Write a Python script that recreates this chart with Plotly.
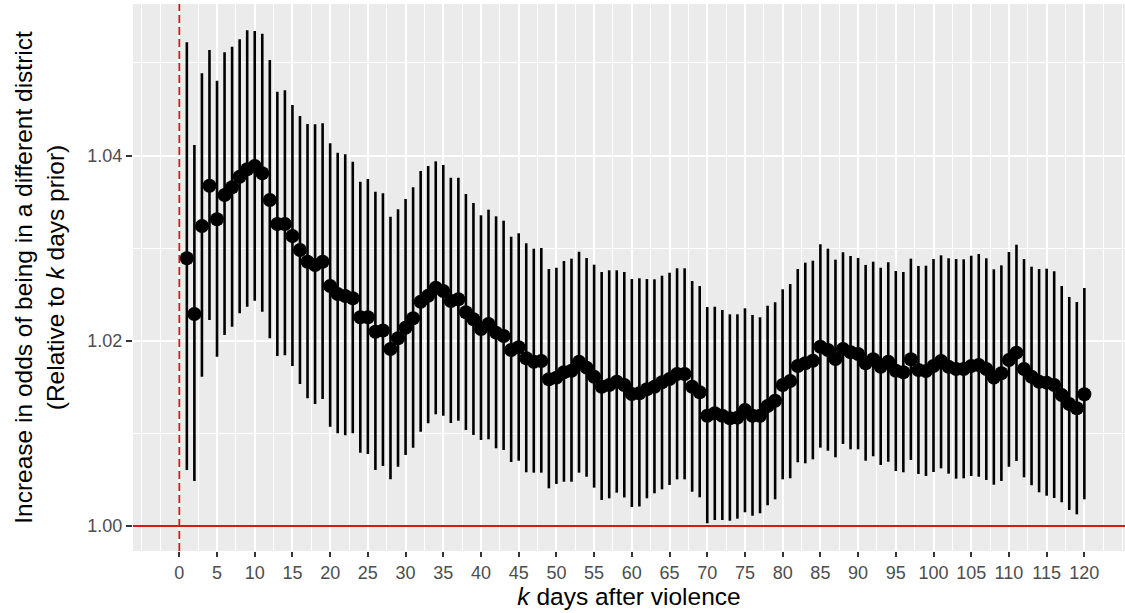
import plotly.graph_objects as go

k_days = list(range(1, 121))

estimate = [
    1.02891, 1.02289, 1.03240, 1.03675, 1.03312, 1.03574, 1.03658, 1.03772, 1.03852, 1.03888,
    1.03809, 1.03520, 1.03261, 1.03261, 1.03132, 1.02981, 1.02854, 1.02819, 1.02854, 1.02592,
    1.02505, 1.02484, 1.02459, 1.02254, 1.02254, 1.02098, 1.02111, 1.01911, 1.02027, 1.02141,
    1.02243, 1.02422, 1.02487, 1.02573, 1.02538, 1.02430, 1.02448, 1.02308, 1.02232, 1.02127,
    1.02181, 1.02088, 1.02052, 1.01901, 1.01930, 1.01811, 1.01774, 1.01782, 1.01584, 1.01602,
    1.01660, 1.01677, 1.01774, 1.01710, 1.01612, 1.01504, 1.01523, 1.01558, 1.01523, 1.01426,
    1.01433, 1.01476, 1.01504, 1.01552, 1.01587, 1.01641, 1.01641, 1.01504, 1.01444, 1.01191,
    1.01217, 1.01191, 1.01163, 1.01170, 1.01253, 1.01191, 1.01191, 1.01296, 1.01353, 1.01523,
    1.01566, 1.01728, 1.01757, 1.01785, 1.01936, 1.01901, 1.01803, 1.01911, 1.01876, 1.01857,
    1.01757, 1.01800, 1.01720, 1.01774, 1.01677, 1.01660, 1.01800, 1.01685, 1.01674, 1.01728,
    1.01782, 1.01720, 1.01695, 1.01695, 1.01728, 1.01739, 1.01695, 1.01602, 1.01649, 1.01793,
    1.01872, 1.01695, 1.01612, 1.01558, 1.01548, 1.01523, 1.01415, 1.01318, 1.01271, 1.01422,
]

ci_lower = [
    1.00605, 1.00486, 1.01612, 1.02225, 1.01828, 1.02063, 1.02152, 1.02297, 1.02368, 1.02433,
    1.02314, 1.02027, 1.01836, 1.01843, 1.01728, 1.01533, 1.01379, 1.01317, 1.01371, 1.01072,
    1.01001, 1.00979, 1.01001, 1.00792, 1.00778, 1.00605, 1.00648, 1.00505, 1.00640, 1.00767,
    1.00846, 1.01018, 1.01109, 1.01206, 1.01191, 1.01112, 1.01137, 1.01037, 1.00983, 1.00929,
    1.00936, 1.00839, 1.00821, 1.00691, 1.00705, 1.00580, 1.00576, 1.00576, 1.00407, 1.00454,
    1.00478, 1.00478, 1.00576, 1.00532, 1.00414, 1.00281, 1.00299, 1.00360, 1.00308, 1.00205,
    1.00211, 1.00299, 1.00353, 1.00396, 1.00443, 1.00504, 1.00504, 1.00370, 1.00310, 1.00029,
    1.00065, 1.00065, 1.00057, 1.00079, 1.00148, 1.00111, 1.00137, 1.00224, 1.00288, 1.00504,
    1.00515, 1.00688, 1.00677, 1.00720, 1.00846, 1.00813, 1.00742, 1.00886, 1.00828, 1.00828,
    1.00705, 1.00753, 1.00659, 1.00694, 1.00594, 1.00580, 1.00713, 1.00562, 1.00540, 1.00583,
    1.00623, 1.00565, 1.00511, 1.00515, 1.00540, 1.00532, 1.00497, 1.00446, 1.00486, 1.00640,
    1.00702, 1.00526, 1.00440, 1.00364, 1.00327, 1.00302, 1.00256, 1.00173, 1.00126, 1.00288,
]

ci_upper = [
    1.05224, 1.04114, 1.04889, 1.05140, 1.04809, 1.05115, 1.05176, 1.05256, 1.05353, 1.05346,
    1.05316, 1.05032, 1.04690, 1.04705, 1.04546, 1.04428, 1.04341, 1.04338, 1.04349, 1.04133,
    1.04031, 1.04014, 1.03934, 1.03718, 1.03747, 1.03610, 1.03593, 1.03340, 1.03421, 1.03531,
    1.03658, 1.03834, 1.03888, 1.03938, 1.03898, 1.03761, 1.03761, 1.03585, 1.03488, 1.03355,
    1.03416, 1.03344, 1.03297, 1.03124, 1.03161, 1.03053, 1.02995, 1.03002, 1.02775, 1.02789,
    1.02862, 1.02887, 1.02962, 1.02894, 1.02822, 1.02743, 1.02761, 1.02761, 1.02743, 1.02667,
    1.02675, 1.02667, 1.02664, 1.02703, 1.02735, 1.02783, 1.02783, 1.02646, 1.02592, 1.02365,
    1.02368, 1.02333, 1.02286, 1.02286, 1.02351, 1.02279, 1.02254, 1.02379, 1.02416, 1.02556,
    1.02613, 1.02775, 1.02844, 1.02865, 1.03042, 1.02995, 1.02876, 1.02956, 1.02916, 1.02894,
    1.02819, 1.02854, 1.02789, 1.02848, 1.02754, 1.02743, 1.02887, 1.02808, 1.02811, 1.02883,
    1.02923, 1.02891, 1.02883, 1.02880, 1.02919, 1.02937, 1.02891, 1.02772, 1.02815, 1.02959,
    1.03038, 1.02883, 1.02800, 1.02775, 1.02779, 1.02751, 1.02592, 1.02473, 1.02419, 1.02570,
]

x_ticks = list(range(0, 121, 5))
y_ticks = [1.00, 1.02, 1.04]
y_tick_labels = ["1.00", "1.02", "1.04"]

err_plus = [u - e for u, e in zip(ci_upper, estimate)]
err_minus = [e - l for e, l in zip(estimate, ci_lower)]

FONT = "Liberation Sans, Arial, Helvetica, sans-serif"

fig = go.Figure()
fig.add_trace(go.Scatter(
    x=k_days, y=estimate, mode="markers",
    marker=dict(color="black", size=14),
    error_y=dict(type="data", symmetric=False, array=err_plus, arrayminus=err_minus,
                 color="black", thickness=2.6, width=0),
    showlegend=False, hoverinfo="x+y",
))

# reference lines
fig.add_shape(type="line", xref="x", yref="paper", x0=0, x1=0, y0=0, y1=1,
              line=dict(color="#D81818", width=1.8, dash="8px,4px"), layer="above")
fig.add_shape(type="line", xref="paper", yref="y", x0=0, x1=1, y0=1.0, y1=1.0,
              line=dict(color="#D81818", width=1.8), layer="above")

fig.update_layout(
    width=1125, height=613,
    margin=dict(l=133, r=0, t=4, b=62),
    paper_bgcolor="white",
    plot_bgcolor="#EBEBEB",
    font=dict(family=FONT, color="black"),
    xaxis=dict(
        range=[-6.14, 125.39],
        tickmode="array", tickvals=x_ticks, ticktext=[str(v) for v in x_ticks],
        showgrid=True, gridcolor="white", gridwidth=2,
        minor=dict(dtick=2.5, tick0=0, showgrid=True, gridcolor="white", gridwidth=1),
        ticks="outside", ticklen=5, tickwidth=2, tickcolor="#333333",
        tickfont=dict(size=18, color="#4D4D4D", family=FONT),
        zeroline=False, showline=False,
        title=dict(text="<i>k</i> days after violence", font=dict(size=24.5, color="black", family=FONT),
                   standoff=4),
    ),
    yaxis=dict(
        range=[0.99730, 1.05637],
        tickmode="array", tickvals=y_ticks, ticktext=y_tick_labels,
        showgrid=True, gridcolor="white", gridwidth=2,
        minor=dict(dtick=0.01, tick0=1.0, showgrid=True, gridcolor="white", gridwidth=1),
        ticks="outside", ticklen=6, tickwidth=2, tickcolor="#333333",
        tickfont=dict(size=18, color="#4D4D4D", family=FONT),
        zeroline=False, showline=False,
        title=dict(text="Increase in odds of being in a different district<br>(Relative to <i>k</i> days prior)",
                   font=dict(size=24.5, color="black", family=FONT), standoff=15),
    ),
)

fig.write_html("out.html")
